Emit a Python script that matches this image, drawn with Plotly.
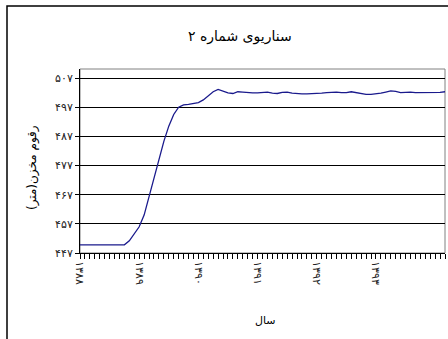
import plotly.graph_objects as go

# monthly reservoir level values (m)
level = [449.8, 449.8, 449.8, 449.8, 449.8, 449.8, 449.8, 449.8, 449.8, 449.8,
         451.2, 453.5, 456.0, 460.0, 466.5, 473.0, 479.5, 485.3, 490.5, 494.5,
         497.0, 497.8, 498.0, 498.3, 498.6, 499.5, 500.8, 502.3, 503.1, 502.6,
         501.9, 501.7, 502.3, 502.2, 502.0, 501.9, 501.9, 502.1, 502.2, 501.8,
         501.7, 502.1, 502.2, 501.8, 501.6, 501.6, 501.6, 501.6, 501.6, 501.8,
         502.0, 502.1, 502.2, 502.0, 502.0, 502.3, 502.0, 501.5, 501.4, 501.4,
         501.5, 501.8, 502.2, 502.6, 502.4, 502.0, 502.1, 502.2, 502.0, 502.0,
         502.0, 502.0, 502.0, 502.1, 502.3]
months = list(range(len(level)))
year_ticks = [0, 12, 24, 36, 48, 60]
year_labels = ["۱۳۸۸", "۱۳۸۹", "۱۳۹۰", "۱۳۹۱", "۱۳۹۲", "۱۳۹۳"]
y_ticks = [447, 457, 467, 477, 487, 497, 507]
y_labels = ["۴۴۷", "۴۵۷", "۴۶۷", "۴۷۷", "۴۸۷", "۴۹۷", "۵۰۷"]

title_text = "سناریوی شماره ۲"
y_title = "رقوم مخزن(متر)"
x_title = "سال"

W, H = 448, 339
L, R, T, B = 80, 3, 69, 86
pw, ph = W - L - R, H - T - B

def px(x):
    return (x - L) / pw

def py(y):
    return (H - B - y) / ph

FONT = "DejaVu Sans"

fig = go.Figure()
fig.add_trace(go.Scatter(x=months, y=level, mode="lines",
                         line=dict(color="#1a1a8c", width=1.3),
                         hoverinfo="skip"))

fig.update_layout(
    width=W, height=H,
    margin=dict(l=L, r=R, t=T, b=B),
    paper_bgcolor="white", plot_bgcolor="white",
    showlegend=False,
    font=dict(family=FONT, size=11, color="black"),
    xaxis=dict(range=[0, len(level) - 1], tickvals=year_ticks,
               ticktext=year_labels,
               tickangle=90, ticks="outside", ticklen=5, tickcolor="black",
               showline=True, linecolor="black", linewidth=1,
               showgrid=False, zeroline=False,
               tickfont=dict(size=11, color="#222"),
               minor=dict(dtick=1, tick0=0, ticks="outside", ticklen=5,
                          tickcolor="black", showgrid=False)),
    yaxis=dict(range=[447, 510.1], tickvals=y_ticks, ticktext=y_labels,
               ticks="outside", ticklen=4, tickcolor="black",
               showline=True, linecolor="black", linewidth=1,
               showgrid=True, gridcolor="black", gridwidth=1,
               zeroline=False, tickfont=dict(size=11, color="#222")),
)

# plot area border (gray top/right)
fig.add_shape(type="rect", xref="paper", yref="paper", x0=0, x1=1, y0=0, y1=1,
              line=dict(color="#808080", width=1), layer="below")
# outer chart border
fig.add_shape(type="rect", xref="paper", yref="paper",
              x0=px(7), x1=px(470), y0=py(360), y1=py(6),
              line=dict(color="black", width=1.5))

fig.add_annotation(text=title_text, xref="paper", yref="paper",
                   x=px(240), y=py(36), xanchor="center", yanchor="middle",
                   showarrow=False, font=dict(size=14, family=FONT))
fig.add_annotation(text=y_title, xref="paper", yref="paper",
                   x=px(32), y=py(168), xanchor="center", yanchor="middle",
                   showarrow=False, textangle=-90,
                   font=dict(size=12, family=FONT))
fig.add_annotation(text=x_title, xref="paper", yref="paper",
                   x=px(265), y=py(320), xanchor="center", yanchor="middle",
                   showarrow=False, font=dict(size=11, family=FONT))

fig.write_html("out.html")
